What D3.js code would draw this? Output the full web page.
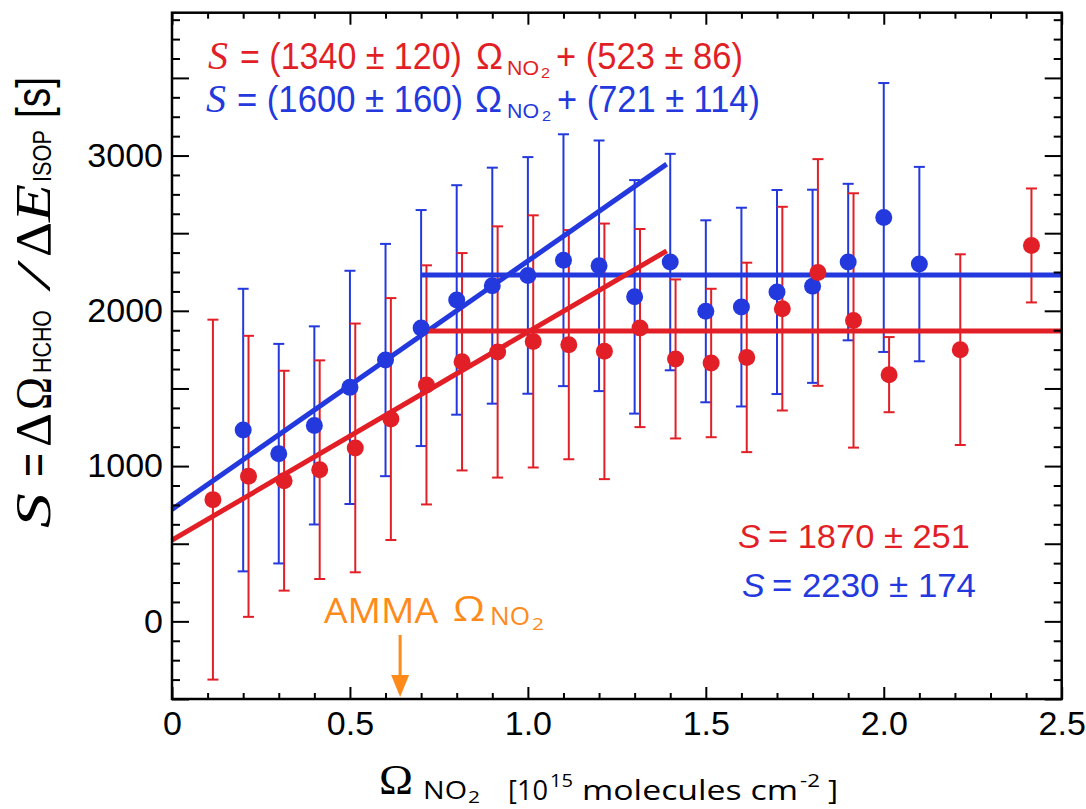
<!DOCTYPE html>
<html><head><meta charset="utf-8">
<script src="https://cdn.jsdelivr.net/npm/d3@7"></script>
<style>body{margin:0;background:#fff} svg{display:block}</style>
</head><body>
<svg id="c" width="1086" height="809"></svg>
<script>
// ---------- data ----------
const blueX   = [0.2,0.3,0.4,0.5,0.6,0.7,0.8,0.9,1.0,1.1,1.2,1.3,1.4,1.5,1.6,1.7,1.8,1.9,2.0,2.1];
const blueY   = [1232,1080,1262,1507,1683,1889,2070,2162,2228,2326,2290,2090,2314,1997,2024,2121,2158,2314,2601,2301];
const blueErr = [910,707,638,751,748,760,739,760,762,811,807,752,697,586,640,657,622,504,866,626];

const redX   = [0.115,0.215,0.315,0.415,0.515,0.615,0.715,0.815,0.915,1.015,1.115,1.215,1.315,1.415,1.515,1.615,1.715,1.815,1.915,2.015,2.215,2.415];
const redY   = [784,934,906,977,1117,1303,1523,1672,1735,1803,1782,1739,1889,1690,1664,1700,2014,2247,1938,1589,1750,2421];
const redErr = [1159,905,708,704,801,779,770,700,809,812,738,823,638,512,478,610,656,730,819,242,614,367];

// fit lines (endpoints)
const blueFit = [[0,721],[1.39,2945]];
const redFit  = [[0,523],[1.39,2386]];
const bluePlateau = [[0.7,2230],[2.5,2230]];
const redPlateau  = [[0.7,1870],[2.5,1870]];

const amma = 0.641;

const xMajor = [0,0.5,1.0,1.5,2.0,2.5];
const xLabels = ["0","0.5","1.0","1.5","2.0","2.5"];
const yMajor = [-500,0,500,1000,1500,2000,2500,3000,3500];
const yLabelVals = [0,1000,2000,3000];
const yLabels = ["0","1000","2000","3000"];

const BLUE = "#2339DD", RED = "#E21F26", ORANGE = "#FF8A1A";
const SANS = "'Liberation Sans',Arial,sans-serif";
const SERIF = "'Liberation Serif','Times New Roman',serif";
const HUMAN = "'Open Sans','Noto Sans',sans-serif";

// ---------- scales ----------
const svg = d3.select("#c");
const x = d3.scaleLinear().domain([0,2.5]).range([172,1061.7]);
const y = d3.scaleLinear().domain([-500,3920]).range([699,12.7]);
const X0 = x.range()[0], X1 = x.range()[1], Y0 = y.range()[0], Y1 = y.range()[1];

// ---------- data layers ----------
function errorBars(xs, ys, es, color) {
  const g = svg.append("g").attr("stroke", color).attr("stroke-width", 2);
  xs.forEach((xv,i)=>{
    const xp = x(xv), top = y(ys[i]+es[i]), bot = y(ys[i]-es[i]);
    g.append("line").attr("x1",xp).attr("x2",xp).attr("y1",top).attr("y2",bot);
    g.append("line").attr("x1",xp-5.5).attr("x2",xp+5.5).attr("y1",top).attr("y2",top);
    g.append("line").attr("x1",xp-5.5).attr("x2",xp+5.5).attr("y1",bot).attr("y2",bot);
  });
}
errorBars(blueX, blueY, blueErr, BLUE);
errorBars(redX, redY, redErr, RED);

const line = d3.line().x(d=>x(d[0])).y(d=>y(d[1]));
[[blueFit,BLUE],[bluePlateau,BLUE],[redFit,RED],[redPlateau,RED]].forEach(([d,c])=>{
  svg.append("path").attr("d",line(d)).attr("stroke",c).attr("stroke-width",5).attr("fill","none");
});

svg.append("g").selectAll("circle").data(blueX).join("circle")
  .attr("cx",d=>x(d)).attr("cy",(d,i)=>y(blueY[i])).attr("r",8.5).attr("fill",BLUE);
svg.append("g").selectAll("circle").data(redX).join("circle")
  .attr("cx",d=>x(d)).attr("cy",(d,i)=>y(redY[i])).attr("r",8.5).attr("fill",RED);

// ---------- axes ----------
const xMinor = d3.range(0,26).map(i=>i/10).filter(v=>!xMajor.some(m=>Math.abs(m-v)<1e-9));
const yMinor = d3.range(-4,32).map(i=>i*125).filter(v=>v%500!==0);

function ax(gen, tr, vals, size, fmt, pad) {
  const g = svg.append("g").attr("transform", tr)
    .call(gen.tickValues(vals).tickSize(-size).tickSizeOuter(0).tickPadding(pad||0).tickFormat(fmt||(()=>"")));
  g.select(".domain").remove();
  g.selectAll("line").attr("stroke","#000").attr("stroke-width",2);
  g.attr("font-family", SANS).attr("font-size", 34);
  g.selectAll("text").attr("fill","#000");
  return g;
}
ax(d3.axisBottom(x), `translate(0,${Y0})`, xMinor, 6);
ax(d3.axisBottom(x), `translate(0,${Y0})`, xMajor, 12, (d,i)=>xLabels[i], 12);
ax(d3.axisTop(x), `translate(0,${Y1})`, xMinor, 6);
ax(d3.axisTop(x), `translate(0,${Y1})`, xMajor, 12);
ax(d3.axisLeft(y), `translate(${X0},0)`, yMinor, 8);
ax(d3.axisLeft(y), `translate(${X0},0)`, yMajor, 17);
ax(d3.axisLeft(y), `translate(${X0},0)`, yLabelVals, 0, (d,i)=>yLabels[i], 9);
ax(d3.axisRight(y), `translate(${X1},0)`, yMinor, 8);
ax(d3.axisRight(y), `translate(${X1},0)`, yMajor, 17);

svg.append("rect").attr("x",X0).attr("y",Y1).attr("width",X1-X0).attr("height",Y0-Y1)
  .attr("fill","none").attr("stroke","#000").attr("stroke-width",2.5);

// ---------- text helper (fit to a width by horizontal scaling) ----------
function t(parent, xp, yp, str, o) {
  const e = parent.append("text").text(str)
    .attr("font-family",o.f).attr("font-size",o.s).attr("fill",o.c||"#000")
    .attr("font-style",o.i?"italic":"normal").attr("text-anchor",o.a||"start");
  let sx = 1;
  if (o.w) {
    const len = e.node().getComputedTextLength();
    if (len > 0) sx = o.w / len;
  }
  e.attr("transform", `translate(${xp},${yp}) scale(${sx},1)`);
  return e;
}

// upper equations
function equation(yb, color, slope, icpt, xs, ws) {
  t(svg, xs[0], yb, "S", {f:SERIF, s:40, c:color, i:true});
  t(svg, xs[1], yb, "= " + slope, {f:SANS, s:37, c:color, w:ws[0]});
  t(svg, xs[2], yb, "Ω", {f:SANS, s:37, c:color, w:27});
  t(svg, xs[3], yb+6, "NO", {f:SANS, s:21, c:color, w:32});
  t(svg, xs[4], yb+9, "2", {f:SANS, s:15, c:color, w:9});
  t(svg, xs[5], yb, "+ " + icpt, {f:SANS, s:37, c:color, w:ws[1]});
}
equation(69, RED, "(1340 ± 120)", "(523 ± 86)", [208,240,476,507,541,556], [222,187]);
equation(112, BLUE, "(1600 ± 160)", "(721 ± 114)", [206,237,475,507,542,557], [226,203]);

// lower right equations
function eq2(xp, yb, color, str, w) {
  t(svg, xp, yb, "S", {f:SANS, s:34, c:color, i:true});
  t(svg, xp+30, yb, "= " + str, {f:SANS, s:34, c:color, w:w});
}
eq2(738, 548, RED, "1870 ± 251", 202);
eq2(742, 597, BLUE, "2230 ± 174", 204);

// AMMA annotation
t(svg, 324, 623, "AMMA", {f:HUMAN, s:35, c:ORANGE, w:114});
t(svg, 453, 621, "Ω", {f:HUMAN, s:35, c:ORANGE, w:32});
t(svg, 490, 625, "NO", {f:HUMAN, s:25, c:ORANGE, w:40});
t(svg, 532, 630, "2", {f:HUMAN, s:17, c:ORANGE, w:12});
const ax0 = x(amma);
svg.append("line").attr("x1",ax0).attr("x2",ax0).attr("y1",635).attr("y2",680)
  .attr("stroke",ORANGE).attr("stroke-width",3);
svg.append("path").attr("d",`M${ax0-9},675 L${ax0+9},675 L${ax0},697 Z`).attr("fill",ORANGE);

// x-axis title
t(svg, 379, 794, "Ω", {f:SERIF, s:43, w:34});
t(svg, 423, 799, "NO", {f:HUMAN, s:26, w:44});
t(svg, 468, 803, "2", {f:HUMAN, s:17, w:12});
t(svg, 508, 800, "[10", {f:HUMAN, s:28, w:40});
t(svg, 550, 787, "15", {f:HUMAN, s:18, w:23});
t(svg, 582, 800, "molecules cm", {f:HUMAN, s:28, w:216});
t(svg, 800, 787, "-2", {f:HUMAN, s:18, w:20});
t(svg, 828, 800, "]", {f:HUMAN, s:28, w:10});

// y-axis title (rotated)
const gy = svg.append("g").attr("transform","translate(50,528) rotate(-90)");
t(gy, 0, 0, "S", {f:SERIF, s:50, i:true, w:35});
t(gy, 51, 0, "=", {f:SANS, s:50, w:24});
t(gy, 81, 0, "Δ", {f:SERIF, s:50, w:34});
t(gy, 118, 0, "Ω", {f:SERIF, s:50, w:33});
t(gy, 155, 1, "HCHO", {f:SANS, s:25, w:63});
t(gy, 240, 0, "/", {f:SERIF, s:48, i:true, w:22});
t(gy, 271, 0, "Δ", {f:SERIF, s:50, w:35});
t(gy, 306, 0, "E", {f:SERIF, s:50, i:true, w:38});
t(gy, 346, 1, "ISOP", {f:SANS, s:25, w:52});
t(gy, 410, 0, "[s]", {f:SANS, s:48, w:41});
</script>
</body></html>
